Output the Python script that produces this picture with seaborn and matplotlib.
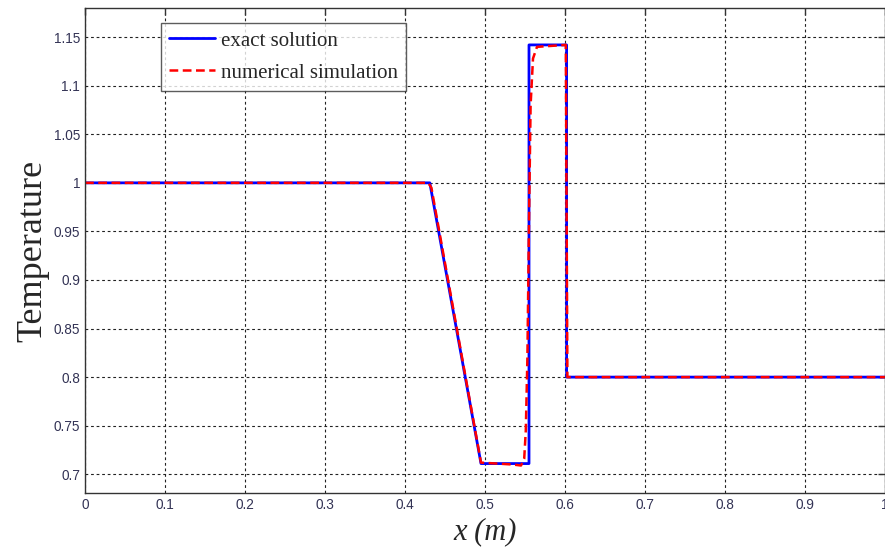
import numpy as np
import pandas as pd
import matplotlib
matplotlib.use("Agg")
import matplotlib.pyplot as plt
import seaborn as sns

# exact solution
x_exact = [0.0, 0.431, 0.495, 0.555, 0.555, 0.602, 0.602, 1.0]
y_exact = [1.0, 1.0, 0.711, 0.711, 1.142, 1.142, 0.800, 0.800]

# numerical simulation
x_num = [0.0, 0.429, 0.433, 0.495, 0.535, 0.545, 0.549, 0.551, 0.553, 0.555,
         0.557, 0.560, 0.565, 0.601, 0.603, 1.0]
y_num = [1.0, 1.0, 0.995, 0.712, 0.710, 0.709, 0.716, 0.745, 0.820, 0.960,
         1.080, 1.128, 1.140, 1.142, 0.800, 0.800]

xticks = [0, 0.1, 0.2, 0.3, 0.4, 0.5, 0.6, 0.7, 0.8, 0.9, 1.0]
xticklabels = ["0", "0.1", "0.2", "0.3", "0.4", "0.5", "0.6", "0.7", "0.8", "0.9", "1"]
yticks = [0.7, 0.75, 0.8, 0.85, 0.9, 0.95, 1.0, 1.05, 1.1, 1.15]
yticklabels = ["0.7", "0.75", "0.8", "0.85", "0.9", "0.95", "1", "1.05", "1.1", "1.15"]

sns.set_style("white")
plt.rcParams["font.family"] = ["Liberation Sans", "DejaVu Sans"]

df_exact = pd.DataFrame({"x": x_exact, "y": y_exact})
df_num = pd.DataFrame({"x": x_num, "y": y_num})

fig = plt.figure(figsize=(8.85, 5.51), dpi=100)
ax = fig.add_axes([85 / 885, 1 - 493 / 551, 800 / 885, 485 / 551])

sns.lineplot(data=df_exact, x="x", y="y", ax=ax, color="#0000ff", linewidth=2.0,
             sort=False, estimator=None, label="exact solution")
sns.lineplot(data=df_num, x="x", y="y", ax=ax, color="#ff0000", linewidth=1.8,
             sort=False, estimator=None, label="numerical simulation",
             linestyle=(0, (3.5, 1.8)))

ax.set_xlim(0, 1.0)
ax.set_ylim(0.6807, 1.180)
ax.set_xticks(xticks)
ax.set_xticklabels(xticklabels)
ax.set_yticks(yticks)
ax.set_yticklabels(yticklabels)
ax.grid(True, color="#222222", linestyle=(0, (2.5, 2.5)), linewidth=0.8)
ax.tick_params(direction="in", length=5, width=1, color="#333333",
               labelsize=9.8, labelcolor="#333355", top=True, right=True)
for s in ax.spines.values():
    s.set_color("#333333")
    s.set_linewidth(1.0)

ax.set_xlabel("x (m)", fontsize=22, fontstyle="italic",
              family=["Liberation Serif", "DejaVu Serif"], labelpad=4)
ax.set_ylabel("Temperature", fontsize=26,
              family=["Liberation Serif", "DejaVu Serif"], labelpad=3)

leg = ax.legend(loc="upper left", bbox_to_anchor=(76 / 800, 1 - 15 / 485),
                prop={"family": ["Liberation Serif"], "size": 15},
                frameon=True, fancybox=False, handlelength=2.2,
                borderpad=0.38, labelspacing=0.6, handletextpad=0.3,
                borderaxespad=0)
leg.get_frame().set_edgecolor("#333333")
leg.get_frame().set_linewidth(1.0)

fig.savefig("out.png", dpi=100)
